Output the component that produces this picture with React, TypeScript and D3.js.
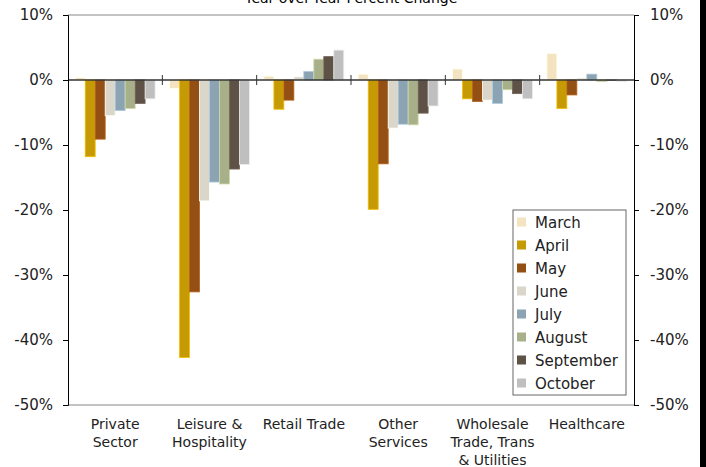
import React, { useEffect, useRef } from 'react';
import * as d3 from 'd3';

const categories = [
  ['Private', 'Sector'],
  ['Leisure &', 'Hospitality'],
  ['Retail Trade'],
  ['Other', 'Services'],
  ['Wholesale', 'Trade, Trans', '& Utilities'],
  ['Healthcare'],
];

const months = ['March', 'April', 'May', 'June', 'July', 'August', 'September', 'October'];
const monthColors = ['#F3E3C0', '#C69A05', '#944F14', '#DAD6C9', '#8BA3B3', '#A8B08A', '#5E5145', '#BFBFBF'];

// percent change by category, one value per month (March..October)
const privateSector = [0.4, -11.8, -9.1, -5.5, -4.7, -4.4, -3.6, -2.9];
const leisure = [-1.3, -42.7, -32.6, -18.6, -15.7, -16.0, -13.7, -13.0];
const retail = [0.6, -4.5, -3.1, 0.5, 1.3, 3.2, 3.6, 4.6];
const otherServices = [0.9, -19.9, -12.9, -7.4, -6.8, -6.9, -5.1, -4.0];
const wholesale = [1.7, -2.9, -3.3, -3.1, -3.6, -1.5, -2.1, -2.9];
const healthcare = [4.1, -4.4, -2.3, 0.3, 0.9, -0.25, -0.05, -0.2];

const seriesByCategory = [privateSector, leisure, retail, otherServices, wholesale, healthcare];
const yTicks = [10, 0, -10, -20, -30, -40, -50];

const FONT = '"DejaVu Sans", Verdana, sans-serif';

export default function App() {
  const svgRef = useRef<SVGSVGElement>(null);

  useEffect(() => {
    if (!svgRef.current) return;
    const width = 706;
    const height = 467;
    const left = 68;
    const right = 634;
    const top = 15;
    const bottom = 405;

    const svg = d3.select(svgRef.current);
    svg.selectAll('*').remove();
    svg.attr('width', width).attr('height', height);

    svg.append('rect').attr('width', width).attr('height', height).attr('fill', '#fff');
    svg.append('rect').attr('x', 700).attr('width', 6).attr('height', height).attr('fill', '#000');

    const x0 = d3.scaleBand<number>().domain(d3.range(categories.length)).range([left, right]).padding(0);
    const x1 = d3.scaleBand<string>().domain(months).range([0, x0.bandwidth()]).paddingInner(0).paddingOuter(0.725);
    const y = d3.scaleLinear().domain([-50, 10]).range([bottom, top]);

    // title (clipped at top in the original)
    svg.append('text')
      .attr('x', (left + right) / 2)
      .attr('y', 3)
      .attr('text-anchor', 'middle')
      .attr('font-family', FONT)
      .attr('font-size', 14)
      .text('Year-over-Year Percent Change');

    // frame lines top/bottom
    svg.append('line').attr('x1', left).attr('x2', right).attr('y1', top).attr('y2', top).attr('stroke', '#888');
    svg.append('line').attr('x1', left).attr('x2', right).attr('y1', bottom).attr('y2', bottom).attr('stroke', '#888');

    // bars
    const groups = svg.append('g')
      .selectAll('g')
      .data(seriesByCategory)
      .join('g')
      .attr('transform', (_d, i) => `translate(${x0(i)},0)`);

    groups.selectAll('rect')
      .data(d => d.map((v, j) => ({ v, j })))
      .join('rect')
      .attr('x', d => x1(months[d.j])!)
      .attr('width', x1.bandwidth())
      .attr('y', d => y(Math.max(0, d.v)))
      .attr('height', d => Math.abs(y(d.v) - y(0)))
      .attr('fill', d => monthColors[d.j])
      .attr('stroke', d => d3.color(monthColors[d.j])!.brighter(0.6).formatHex())
      .attr('stroke-width', 0.8);

    // zero line
    svg.append('line').attr('x1', left).attr('x2', right).attr('y1', y(0)).attr('y2', y(0)).attr('stroke', '#333').attr('stroke-width', 1.3);

    // category separator ticks on zero line
    d3.range(1, categories.length).forEach(i => {
      const xx = x0(i)!;
      svg.append('line').attr('x1', xx).attr('x2', xx).attr('y1', y(0) - 5).attr('y2', y(0) + 5).attr('stroke', '#333');
    });

    // left axis
    const leftAxis = svg.append('g').attr('transform', `translate(${left},0)`)
      .call(d3.axisLeft(y).tickValues(yTicks).tickFormat(d => `${d}%`).tickSize(5).tickPadding(10));
    // right axis
    const rightAxis = svg.append('g').attr('transform', `translate(${right},0)`)
      .call(d3.axisRight(y).tickValues(yTicks).tickFormat(d => `${d}%`).tickSize(5).tickPadding(11));
    [leftAxis, rightAxis].forEach(a => {
      a.select('.domain').attr('stroke', '#000');
      a.selectAll('.tick line').attr('stroke', '#000');
      a.selectAll('text').attr('font-family', FONT).attr('font-size', 15).attr('fill', '#222');
    });

    // category labels
    categories.forEach((lines, i) => {
      const cx = x0(i)! + x0.bandwidth() / 2;
      const t = svg.append('text')
        .attr('text-anchor', 'middle')
        .attr('font-family', FONT)
        .attr('font-size', 14)
        .attr('fill', '#222');
      lines.forEach((ln, k) => {
        t.append('tspan').attr('x', cx).attr('y', 429 + k * 18).text(ln);
      });
    });

    // legend
    const lx = 513;
    const ly = 210;
    svg.append('rect').attr('x', lx).attr('y', ly).attr('width', 113).attr('height', 185)
      .attr('fill', '#fff').attr('stroke', '#666');
    const legendRows = svg.append('g').selectAll('g').data(months).join('g')
      .attr('transform', (_d, i) => `translate(${lx + 4},${ly + 12 + i * 23})`);
    legendRows.append('rect').attr('x', 0).attr('y', -4.5).attr('width', 9).attr('height', 9)
      .attr('fill', (_d, i) => monthColors[i]);
    legendRows.append('text').attr('x', 18).attr('y', 5.5)
      .attr('font-family', FONT).attr('font-size', 15).attr('fill', '#222')
      .text(d => d);
  }, []);

  return <svg ref={svgRef} style={{ position: 'absolute', left: 0, top: 0, display: 'block' }} />;
}
